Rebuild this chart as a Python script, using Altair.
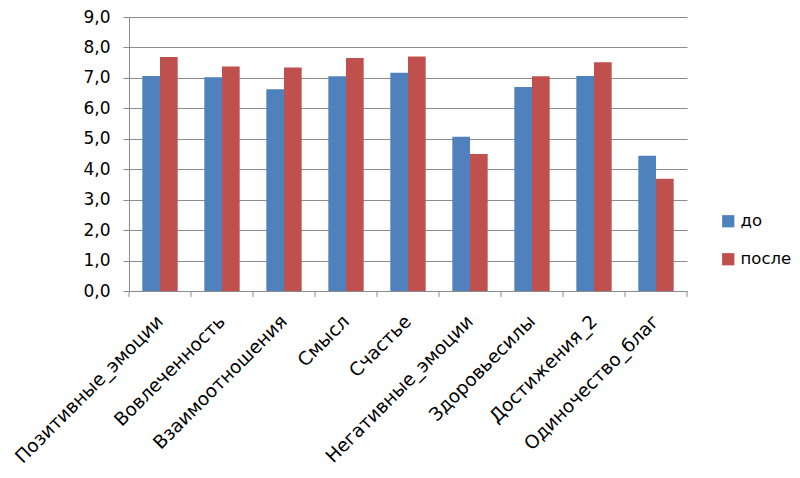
import altair as alt
import pandas as pd

categories = ["Позитивные_эмоции", "Вовлеченность", "Взаимоотношения", "Смысл",
              "Счастье", "Негативные_эмоции", "Здоровьесилы", "Достижения_2",
              "Одиночество_благ"]
before = [7.06, 7.02, 6.63, 7.05, 7.17, 5.07, 6.70, 7.06, 4.44]
after = [7.69, 7.37, 7.34, 7.65, 7.70, 4.50, 7.05, 7.51, 3.69]
series = ["до", "после"]
colors = ["#4F81BD", "#C0504D"]
y_ticks = [0, 1, 2, 3, 4, 5, 6, 7, 8, 9]

rows = []
for c, b, a in zip(categories, before, after):
    rows.append({"cat": c, "series": series[0], "value": b})
    rows.append({"cat": c, "series": series[1], "value": a})
df = pd.DataFrame(rows)
cat_df = pd.DataFrame({"cat": categories})

W, H = 558, 274
FONT = "DejaVu Sans"
GRID = "#8C8C8C"
PI = 0.43
STEP = W / len(categories)

xscale = alt.Scale(domain=categories, paddingInner=PI, paddingOuter=PI / 2)
xaxis = alt.Axis(labelAngle=-45, labelAlign="right", labelBaseline="middle",
                 ticks=False, domain=True, domainColor=GRID,
                 labelFontSize=18.5, labelFont=FONT, labelColor="#000000",
                 labelPadding=27, labelLimit=300)

bars = alt.Chart(df).mark_bar().encode(
    x=alt.X("cat:N", sort=categories, scale=xscale, title=None, axis=xaxis),
    xOffset=alt.XOffset("series:N", sort=series),
    y=alt.Y("value:Q", scale=alt.Scale(domain=[0, 9], nice=False), title=None,
            axis=alt.Axis(values=y_ticks,
                          labelExpr="replace(format(datum.value, '.1f'), '.', ',')",
                          grid=True, gridColor=GRID, domainColor=GRID,
                          tickColor=GRID, tickSize=6, labelPadding=13,
                          labelFontSize=17, labelFont=FONT, labelColor="#000000")),
    color=alt.Color("series:N", sort=series,
                    scale=alt.Scale(domain=series, range=colors),
                    legend=alt.Legend(title=None, orient="none", legendX=591, legendY=196,
                                      symbolType="square", symbolSize=150,
                                      symbolStrokeWidth=0,
                                      labelFontSize=16.5, labelFont=FONT,
                                      labelColor="#000000", rowPadding=21,
                                      labelOffset=4)),
)

ticks = alt.Chart(cat_df).mark_rule(color=GRID, xOffset=-STEP * PI / 2).encode(
    x=alt.X("cat:N", sort=categories, scale=xscale, title=None, axis=xaxis,
            bandPosition=0),
    y=alt.value(H),
    y2=alt.value(H + 6),
)

end_tick = alt.Chart(pd.DataFrame({"k": [0]})).mark_rule(color=GRID).encode(
    x=alt.value(W), y=alt.value(H), y2=alt.value(H + 6),
)

chart = alt.layer(bars, ticks, end_tick).properties(
    width=W, height=H,
    autosize=alt.AutoSizeParams(type="none"),
    padding={"left": 121, "top": 9, "right": 105, "bottom": 178},
    background="white",
).configure_view(stroke=None)

chart.save("out.html", embed_options={"renderer": "svg", "actions": False})
